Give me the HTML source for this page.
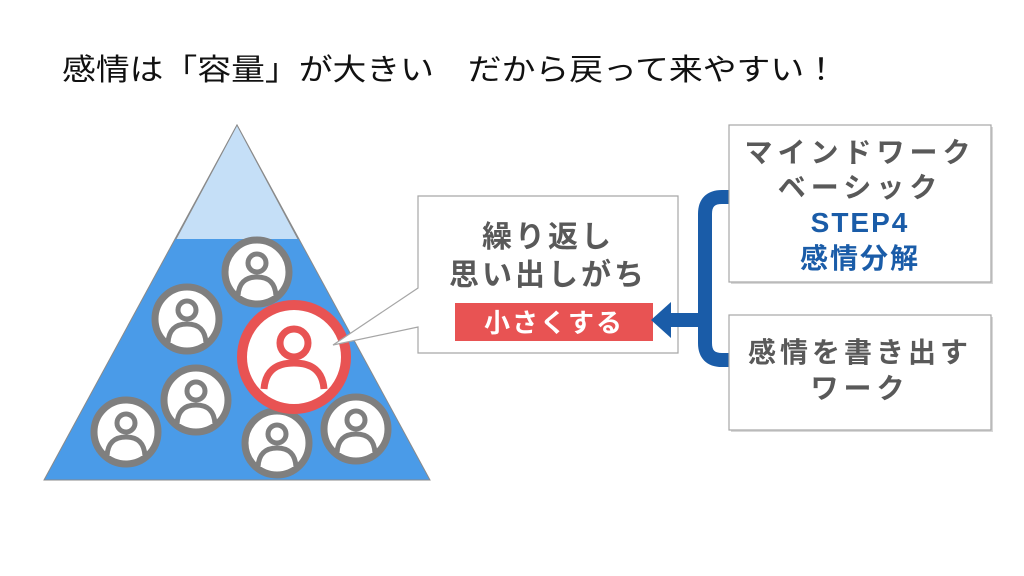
<!DOCTYPE html>
<html><head><meta charset="utf-8"><style>
html,body{margin:0;padding:0;background:#fff;}
svg{display:block;}
text{font-family:"Liberation Sans","Noto Sans CJK JP",sans-serif;}
</style></head><body>
<svg width="1024" height="576" viewBox="0 0 1024 576" xmlns="http://www.w3.org/2000/svg">
<defs>
<g id="pg">
  <circle r="32" fill="#fff" stroke="#7f7f7f" stroke-width="7"/>
  <clipPath id="cg"><circle r="29"/></clipPath>
  <circle cy="-9" r="9" fill="#fff" stroke="#7f7f7f" stroke-width="5"/>
  <path d="M-19,24 Q-18,5 0,5 Q18,5 19,24" fill="#fff" stroke="#7f7f7f" stroke-width="5"/>
</g>
</defs>
<text x="62" y="80" font-size="30" fill="#111" textLength="776" lengthAdjust="spacingAndGlyphs">感情は「容量」が大きい　だから戻って来やすい！</text>

<polygon points="237,125 44,480 430,480" fill="#4a9be8" stroke="#8a8a8a" stroke-width="1"/>
<polygon points="237,125 176,239 298,239" fill="#c5dff7"/>
<polyline points="176,239 237,125 298,239" fill="none" stroke="#8a8a8a" stroke-width="1"/>

<use href="#pg" x="257" y="272"/>
<use href="#pg" x="187" y="319"/>
<use href="#pg" x="196" y="400"/>
<use href="#pg" x="126" y="432"/>
<use href="#pg" x="277" y="443"/>
<use href="#pg" x="356" y="429"/>

<g transform="translate(294,357)">
  <circle r="52" fill="#fff" stroke="#e85353" stroke-width="10"/>
  <circle cy="-14" r="14" fill="#fff" stroke="#e85353" stroke-width="7"/>
  <path d="M-30,32 Q-28,6 0,6 Q28,6 30,32" fill="#fff" stroke="#e85353" stroke-width="7"/>
</g>

<path d="M418,196 H678 V353 H418 V327 L333,345 L418,288 Z" fill="#fff" stroke="#a6a6a6" stroke-width="1.2"/>
<text x="548" y="247" font-size="30" fill="#595959" text-anchor="middle" font-weight="bold" letter-spacing="3">繰り返し</text>
<text x="548" y="285" font-size="30" fill="#595959" text-anchor="middle" font-weight="bold" letter-spacing="3">思い出しがち</text>
<rect x="455" y="303" width="198" height="38" fill="#e85353"/>
<text x="554" y="332" font-size="26" fill="#fff" text-anchor="middle" font-weight="bold" letter-spacing="2">小さくする</text>

<path d="M729,197 H722 Q705,197 705,214 V343 Q705,360 722,360 H729" fill="none" stroke="#1a5ca8" stroke-width="14"/>
<rect x="668" y="313" width="40" height="14" fill="#1a5ca8"/>
<polygon points="651,320 671,302 671,338" fill="#1a5ca8"/>

<rect x="731" y="127" width="262" height="157" fill="#d8d8d8"/>
<rect x="729" y="125" width="262" height="157" fill="#fff" stroke="#a6a6a6" stroke-width="1.2"/>
<text x="860" y="162" font-size="28" fill="#595959" text-anchor="middle" font-weight="bold" letter-spacing="5">マインドワーク</text>
<text x="860" y="197" font-size="28" fill="#595959" text-anchor="middle" font-weight="bold" letter-spacing="5">ベーシック</text>
<text x="860" y="232" font-size="28" fill="#1a5ca8" text-anchor="middle" font-weight="bold" letter-spacing="2">STEP4</text>
<text x="860" y="268" font-size="28" fill="#1a5ca8" text-anchor="middle" font-weight="bold" letter-spacing="2">感情分解</text>

<rect x="731" y="317" width="262" height="115" fill="#d8d8d8"/>
<rect x="729" y="315" width="262" height="115" fill="#fff" stroke="#a6a6a6" stroke-width="1.2"/>
<text x="860" y="362" font-size="28" fill="#595959" text-anchor="middle" font-weight="bold" letter-spacing="4">感情を書き出す</text>
<text x="860" y="398" font-size="28" fill="#595959" text-anchor="middle" font-weight="bold" letter-spacing="5">ワーク</text>
</svg>
</body></html>
